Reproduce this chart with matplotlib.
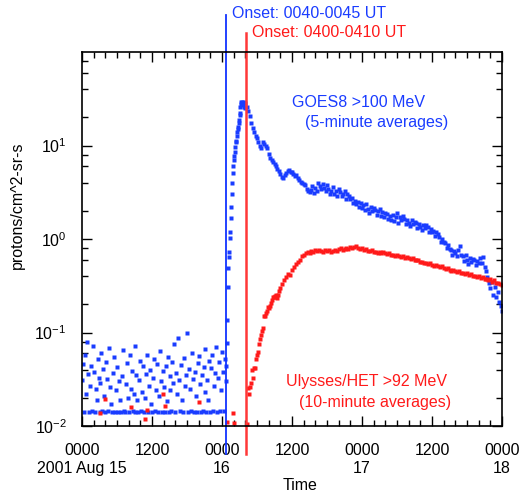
import numpy as np
import matplotlib
matplotlib.use("Agg")
import matplotlib.pyplot as plt
from matplotlib.ticker import FixedLocator, LogLocator, NullFormatter, LogFormatterSciNotation

plt.rcParams["font.family"] = ["Liberation Sans", "DejaVu Sans"]
plt.rcParams["axes.unicode_minus"] = False
plt.rcParams["mathtext.default"] = "regular"

BLUE = "#1a3cff"
RED = "#ff1a1a"

# all times are hours after 2001 Aug 15 0000 UT

# GOES8 >100 MeV, quiet background (10-minute grid)
goes_quiet_start = 0.0
goes_quiet_step = 10 / 60
goes_quiet = [
    0.031, 0.046, 0.014, 0.058, 0.022, 0.080, 0.036, 0.014, 0.027, 0.044, 0.0145, 0.072,
    0.038, 0.014, 0.025, 0.019, 0.052, 0.033, 0.014, 0.029, 0.061, 0.0145, 0.041, 0.021,
    0.014, 0.048, 0.032, 0.0145, 0.069, 0.026, 0.017, 0.014, 0.037, 0.055, 0.014, 0.024,
    0.043, 0.014, 0.030, 0.019, 0.014, 0.034, 0.065, 0.0145, 0.014, 0.028, 0.047, 0.020,
    0.014, 0.057, 0.025, 0.039, 0.0145, 0.022, 0.014, 0.071, 0.035, 0.019, 0.014, 0.031,
    0.050, 0.0145, 0.023, 0.044, 0.014, 0.020, 0.036, 0.058, 0.014, 0.027, 0.040, 0.017,
    0.014, 0.033, 0.052, 0.0145, 0.024, 0.046, 0.014, 0.021, 0.063, 0.030, 0.014, 0.039,
    0.026, 0.014, 0.044, 0.0185, 0.055, 0.014, 0.034, 0.024, 0.0145, 0.048, 0.029, 0.076,
    0.014, 0.037, 0.022, 0.088, 0.031, 0.0145, 0.045, 0.019, 0.014, 0.053, 0.027, 0.035,
    0.098, 0.014, 0.041, 0.025, 0.0145, 0.060, 0.032, 0.014, 0.038, 0.021, 0.014, 0.047,
    0.056, 0.028, 0.014, 0.035, 0.0145, 0.043, 0.023, 0.066, 0.014, 0.031, 0.019, 0.050,
    0.014, 0.042, 0.058, 0.0145, 0.027, 0.037, 0.070, 0.014, 0.033, 0.048, 0.0145, 0.024,
    0.062, 0.038, 0.0145, 0.052, 0.030,
]

# GOES8 onset and rise (5-minute grid)
goes_rise_start = 24.75
goes_rise_step = 5 / 60
goes_rise = [
    0.044, 0.077, 0.136, 0.31, 0.49, 0.64, 0.73, 1.03, 1.19, 1.68,
    2.2, 3.03, 4.0, 5.1, 6.0, 7.0, 7.8, 8.5, 9.6, 10.9,
    11.2, 12.5, 13.9, 15.0, 15.8, 17.5, 18.7, 21.0, 22.3, 25.8,
    28.0, 29.5, 29.2, 28.0, 27.0, 28.5, 29.0, 26.0, 25.2, 28.5,
]

# GOES8 decay (15-minute grid)
goes_decay_start = 28.25
goes_decay_step = 0.25
goes_decay = [
    25.5, 23.5, 20.5, 17.5, 15.4, 13.8, 12.6, 12.1, 10.8, 9.8, 9.4, 10.9,
    10.3, 9.9, 9.3, 8.2, 7.4, 7.0, 6.7, 6.4, 6.0, 5.6, 5.3, 5.0,
    4.6, 4.5, 4.8, 5.1, 5.4, 5.5, 5.2, 5.2, 4.9, 4.7, 4.8, 4.5,
    4.3, 4.1, 3.95, 3.9, 3.8, 3.4, 3.3, 3.15,
    3.35, 3.7, 3.1, 3.5, 3.3, 4.0, 3.65, 3.45, 3.85, 3.5, 3.25, 3.75,
    3.45, 3.0, 3.3, 3.6, 3.0, 3.3, 2.9, 3.4, 3.15, 2.85, 3.05, 3.3,
    2.65, 3.0, 2.85, 2.7, 2.75, 2.4, 2.55, 2.35, 2.5, 2.2, 2.4, 2.15,
    2.3, 2.05, 2.35, 2.1, 1.9, 2.2, 2.0, 2.12, 2.05, 1.8, 1.98, 2.1,
    1.75, 1.95, 1.7, 1.88, 1.85, 1.62, 1.76, 1.6, 1.8, 1.56, 1.7, 1.9,
    1.5, 1.7, 1.58, 1.76, 1.65, 1.45, 1.6, 1.5, 1.38, 1.58, 1.44, 1.52,
    1.5, 1.32, 1.46, 1.36, 1.26, 1.42, 1.3, 1.4, 1.34, 1.18, 1.28, 1.2,
    1.22, 1.08, 1.18, 1.12, 1.05, 0.94, 1.0, 0.92, 0.9, 0.8, 0.86, 0.78,
    0.76, 0.68, 0.74, 0.7, 0.66, 0.76, 0.84, 0.68, 0.65, 0.58, 0.67, 0.6,
    0.54, 0.63, 0.57, 0.61, 0.6, 0.53, 0.58, 0.55, 0.62, 0.55, 0.64, 0.5,
    0.45, 0.39, 0.34, 0.3, 0.35, 0.25, 0.31, 0.24, 0.27, 0.21, 0.19, 0.17,
]

# Ulysses/HET >92 MeV, isolated points above the plot floor
uly_quiet_hours = [3.1, 3.9, 8.4, 10.8, 11.1, 13.9, 14.2, 20.1, 24.85, 25.9, 26.05, 28.3]
uly_quiet = [0.0138, 0.0194, 0.016, 0.0119, 0.0148, 0.022, 0.0164, 0.018, 0.011, 0.0138, 0.0107, 0.0105]

# Ulysses rise (10-minute grid)
uly_rise_start = 28.5
uly_rise_step = 10 / 60
uly_rise = [
    0.0255, 0.022, 0.026, 0.029, 0.040, 0.033, 0.042, 0.042, 0.052, 0.057,
    0.062, 0.075, 0.085, 0.095, 0.105, 0.112, 0.150, 0.150, 0.160, 0.170,
    0.187, 0.182, 0.190, 0.205, 0.223, 0.240, 0.238, 0.242, 0.245, 0.252,
    0.234, 0.250, 0.278, 0.30,
]

# Ulysses decay (20-minute grid)
uly_decay_start = 34 + 1 / 3
uly_decay_step = 1 / 3
uly_decay = [
    0.33, 0.36, 0.39, 0.42, 0.41, 0.47, 0.50, 0.54, 0.57, 0.60, 0.65, 0.68,
    0.70, 0.72, 0.71, 0.74, 0.72, 0.76, 0.74, 0.77, 0.75, 0.73, 0.76, 0.74,
    0.76, 0.73, 0.75, 0.77, 0.75, 0.78, 0.80, 0.77, 0.79, 0.81, 0.79, 0.83,
    0.80, 0.82, 0.84, 0.81, 0.79, 0.80, 0.77, 0.78, 0.75, 0.74, 0.76, 0.72,
    0.73, 0.71, 0.72, 0.70, 0.72, 0.70, 0.69, 0.70, 0.68, 0.68, 0.66, 0.67,
    0.66, 0.64, 0.65, 0.63, 0.64, 0.62, 0.61, 0.62, 0.60, 0.59, 0.60, 0.57,
    0.57, 0.55, 0.56, 0.54, 0.55, 0.53, 0.52, 0.53, 0.51, 0.50, 0.51, 0.49,
    0.48, 0.49, 0.47, 0.46, 0.47, 0.45, 0.44, 0.45, 0.43, 0.43, 0.42, 0.43,
    0.41, 0.42, 0.40, 0.40, 0.39, 0.40, 0.38, 0.39, 0.37, 0.37, 0.36, 0.37,
    0.35, 0.36, 0.34, 0.34, 0.33, 0.32,
]

goes_onset = 24.75     # Aug 16 0045 UT
uly_onset = 28 + 5 / 60  # Aug 16 0405 UT

x_ticks = [0, 12, 24, 36, 48, 60, 72]
x_labels = ["0000\n2001 Aug 15", "1200", "0000\n16", "1200", "0000\n17", "1200", "0000\n18"]
y_ticks = [1e-2, 1e-1, 1e0, 1e1]


def grid(start, step, values):
    return start + step * np.arange(len(values))


fig = plt.figure(figsize=(5.26, 4.92), dpi=100)
ax = fig.add_axes([82 / 526, 1 - 426 / 492, 420 / 526, 374 / 492])

pts = dict(ls="none", marker="s", ms=2.4, mec="none")
ax.plot(grid(goes_quiet_start, goes_quiet_step, goes_quiet), goes_quiet, mfc=BLUE, **pts)
ax.plot(grid(goes_rise_start, goes_rise_step, goes_rise), goes_rise, mfc=BLUE, **pts)
ax.plot(grid(goes_decay_start, goes_decay_step, goes_decay), goes_decay, mfc=BLUE, **pts)
ax.plot(uly_quiet_hours, uly_quiet, mfc=RED, **pts)
ax.plot(grid(uly_rise_start, uly_rise_step, uly_rise), uly_rise, mfc=RED, **pts)
ax.plot(grid(uly_decay_start, uly_decay_step, uly_decay), uly_decay, mfc=RED, **pts)

ax.set_yscale("log")
ax.set_xlim(0, 72)
ax.set_ylim(1e-2, 1e2)

# onset markers run past the frame up to their labels
ax.axvline(goes_onset, ymin=-0.075, ymax=1.10, color="#1133ff", lw=1.3, clip_on=False)
ax.axvline(uly_onset, ymin=-0.075, ymax=1.05, color="#ff3838", lw=1.8, clip_on=False)
ax.text(goes_onset + 1.0, 255, "Onset: 0040-0045 UT", color=BLUE, fontsize=11.5,
        va="center", clip_on=False)
ax.text(uly_onset + 1.1, 160, "Onset: 0400-0410 UT", color=RED, fontsize=11.5,
        va="center", clip_on=False)

ax.text(36.0, 29, "GOES8 >100 MeV", color=BLUE, fontsize=11.5, va="center")
ax.text(38.2, 17.8, "(5-minute averages)", color=BLUE, fontsize=11.5, va="center")
ax.text(35.0, 0.030, "Ulysses/HET >92 MeV", color=RED, fontsize=11.5, va="center")
ax.text(37.2, 0.018, "(10-minute averages)", color=RED, fontsize=11.5, va="center")

ax.xaxis.set_major_locator(FixedLocator(x_ticks))
ax.xaxis.set_minor_locator(FixedLocator(np.arange(0, 73, 2)))
ax.set_xticklabels(x_labels)
ax.yaxis.set_major_locator(FixedLocator(y_ticks))
ax.yaxis.set_major_formatter(LogFormatterSciNotation())
ax.yaxis.set_minor_locator(LogLocator(base=10, subs=(2, 4, 6, 8)))
ax.yaxis.set_minor_formatter(NullFormatter())

ax.tick_params(which="both", direction="in", top=True, right=True, width=1, labelsize=11.5)
ax.tick_params(which="major", length=7)
ax.tick_params(which="minor", length=4)
ax.tick_params(axis="x", pad=12.5)
ax.tick_params(axis="y", pad=11)
for sp in ax.spines.values():
    sp.set_linewidth(1.2)

fig.text(300 / 526, 1 - 485 / 492, "Time", fontsize=11.5, ha="center", va="center")
fig.text(17 / 526, 1 - 205 / 492, "protons/cm^2-sr-s", fontsize=11.5,
         rotation=90, ha="center", va="center")

fig.savefig("out.png", dpi=100)
